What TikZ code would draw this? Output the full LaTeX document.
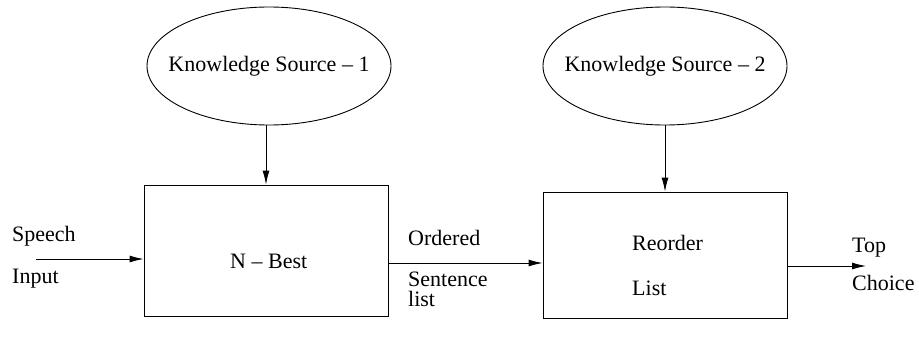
\documentclass[tikz,border=0pt]{standalone}
\usepackage{fontspec}
\setmainfont{Liberation Serif}
\usetikzlibrary{shapes.geometric,arrows.meta}
\begin{document}
\begin{tikzpicture}[x=1pt,y=-1pt,
  every node/.style={font=\fontsize{22}{25}\selectfont},
  ks/.style={draw,ellipse,line width=0.9pt,minimum width=244pt,minimum height=118pt,inner sep=0pt},
  blk/.style={draw,rectangle,line width=0.9pt,inner sep=0pt},
  lbl/.style={anchor=base west,inner sep=0pt},
  arr/.style={-{Latex[length=14pt,width=7pt]},line width=0.9pt}]
\useasboundingbox (0,0) rectangle (919,345);
\node[ks] (ks1) at (269,66) {};
\node[ks] (ks2) at (665,66) {};
\node (ks1t) at (ks1.center) {Knowledge Source -- 1};
\node (ks2t) at (ks2.center) {Knowledge Source -- 2};
\node[blk,minimum width=244pt,minimum height=131pt] (nb) at (266,250.5) {};
\node[blk,minimum width=244pt,minimum height=126pt] (rl) at (665,255) {};
\node[lbl] (nbt) at (230,268) {N -- Best};
\node[lbl] (r1) at (632,250) {Reorder};
\node[lbl] (r2) at (632,295) {List};
\node[lbl] (sp) at (12,241) {Speech};
\node[lbl] (ip) at (12,283) {Input};
\node[lbl] (o1) at (408,245) {Ordered};
\node[lbl] (o2) at (408,286) {Sentence};
\node[lbl] (o3) at (408,306) {list};
\node[lbl] (t1) at (852,252) {Top};
\node[lbl] (t2) at (852,290) {Choice};
\coordinate (inp) at (36,259);
\coordinate (mid) at (0,263);
\coordinate (outy) at (0,266);
\coordinate (outp) at (866,266);
\draw[arr] (ks1.south -| nb.north) -- (nb.north);
\draw[arr] (ks2.south) -- (ks2.south |- rl.north);
\draw[arr] (inp) -- (nb.west |- inp);
\draw[arr] (nb.east |- mid) -- (rl.west |- mid);
\draw[arr] (rl.east |- outy) -- (outp);
\end{tikzpicture}
\end{document}
